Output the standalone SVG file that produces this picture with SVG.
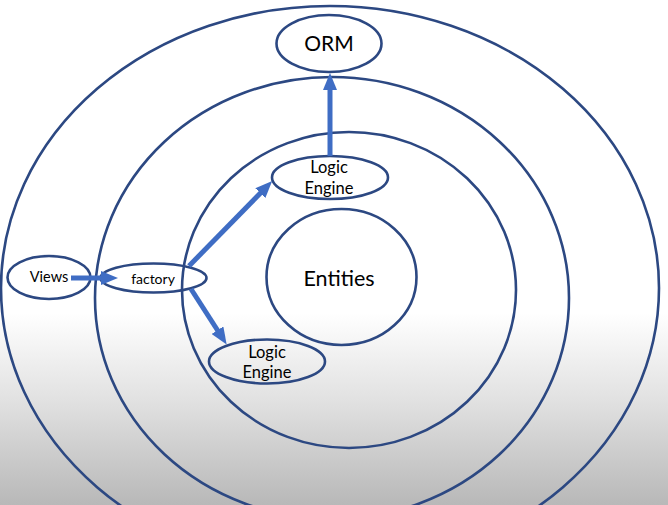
<svg xmlns="http://www.w3.org/2000/svg" width="668" height="505" viewBox="0 0 668 505">
  <defs>
    <linearGradient id="bg" x1="0" y1="0" x2="0" y2="1">
      <stop offset="0" stop-color="#FFFFFF"/>
      <stop offset="0.62" stop-color="#FFFFFF"/>
      <stop offset="0.8" stop-color="#E0E0E0"/>
      <stop offset="1" stop-color="#B8B8B8"/>
    </linearGradient>
    <marker id="head" markerUnits="userSpaceOnUse" markerWidth="18" markerHeight="14" refX="1" refY="7" orient="auto" viewBox="0 0 18 14">
      <path d="M0,0 L17,7 L0,14 Z" fill="#3F6DC4"/>
    </marker>
  </defs>
  <style>
    .ring { fill: none; stroke: #2C4882; stroke-width: 2.6; }
    .node { fill: none; stroke: #2C4882; stroke-width: 2.6; }
    .lbl { font-family: Lato, "Open Sans", "Liberation Sans", sans-serif; fill: #000; text-anchor: middle; }
    .conn { stroke: #3F6DC4; stroke-width: 5; fill: none; marker-end: url(#head); }
  </style>
  <rect x="0" y="0" width="668" height="505" fill="url(#bg)"/>

  <g id="rings">
    <ellipse class="ring" cx="330" cy="288" rx="329" ry="282"/>
    <ellipse class="ring" cx="332" cy="298" rx="237" ry="221"/>
    <ellipse class="ring" cx="349" cy="290" rx="167" ry="158"/>
  </g>

  <g id="entities">
    <ellipse class="node" cx="341.5" cy="277" rx="75" ry="68"/>
    <text class="lbl" x="339" y="286" font-size="21.5">Entities</text>
  </g>

  <g id="orm">
    <ellipse class="node" cx="329" cy="43.5" rx="52.5" ry="28.5"/>
    <text class="lbl" x="329" y="51" font-size="21">ORM</text>
  </g>

  <g id="logic-engine-top">
    <ellipse class="node" cx="330" cy="177.5" rx="58" ry="21.5"/>
    <text class="lbl" x="329" y="173" font-size="16.5">Logic</text>
    <text class="lbl" x="329" y="193.5" font-size="16.5">Engine</text>
  </g>

  <g id="logic-engine-bottom">
    <ellipse class="node" cx="267" cy="361.5" rx="58" ry="22"/>
    <text class="lbl" x="267" y="357.5" font-size="16.5">Logic</text>
    <text class="lbl" x="267" y="378" font-size="16.5">Engine</text>
  </g>

  <g id="views">
    <ellipse class="node" cx="49" cy="277.5" rx="41.5" ry="21.5"/>
    <text class="lbl" x="49" y="282" font-size="14.5">Views</text>
  </g>

  <g id="factory">
    <ellipse class="node" cx="153.5" cy="278" rx="53" ry="14.5"/>
    <text class="lbl" x="153" y="284" font-size="14">factory</text>
  </g>

  <g id="connectors">
    <line class="conn" x1="71" y1="278" x2="102" y2="278"/>
    <line class="conn" x1="189" y1="266" x2="261" y2="192.5"/>
    <line class="conn" x1="191" y1="289" x2="218" y2="331"/>
    <line class="conn" x1="330" y1="156" x2="330" y2="89"/>
  </g>
</svg>
